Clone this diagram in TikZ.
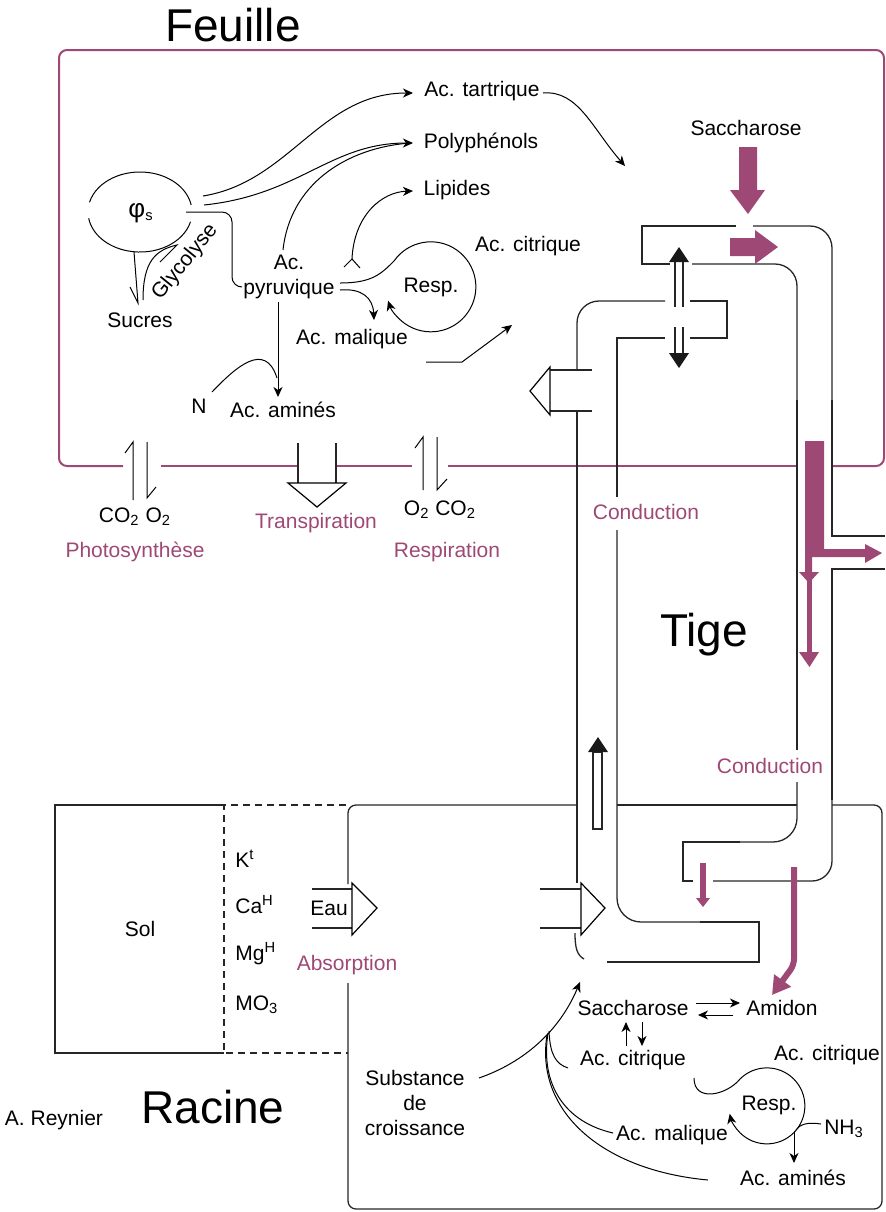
\documentclass[tikz,border=0pt]{standalone}
\usepackage{fontspec}
\setmainfont{Liberation Sans}
\usetikzlibrary{arrows.meta}
\definecolor{plum}{RGB}{158,72,117}
\tikzset{
  txt/.style     ={font=\fontsize{10.5}{12.6}\selectfont, inner sep=1pt},
  ptxt/.style    ={txt, text=plum},
  big/.style     ={font=\fontsize{23}{27}\selectfont, inner sep=0pt},
  flow/.style    ={-{Stealth[length=5pt,width=4.5pt,inset=1.5pt]}, line width=0.5pt},
  fine/.style    ={line width=0.5pt},
  wall/.style    ={line width=0.65pt, black!85},
  leafwall/.style={line width=1pt, plum},
  soilwall/.style={line width=0.6pt, black!85, dash pattern=on 3.5pt off 2.5pt},
  openarr/.style ={draw, line width=0.6pt, fill=white},
  sap/.style     ={fill=plum, draw=none},
  blk/.style     ={fill=black!90, draw=none},
}

\begin{document}
\begin{tikzpicture}[x=0.5pt, y=-0.5pt]
  \useasboundingbox (0,0) rectangle (885,1212);

  % feuille
  \draw[leafwall, rounded corners=4pt] (123,466) -- (59,466) -- (59,50) -- (884,50) -- (884,466) -- (832,466);
  \draw[leafwall] (161,466) -- (298,466) (337,466) -- (412,466) (448,466) -- (797,466);
  \node[big] (feuille) at (233,25) {Feuille};
  \node[big] (tige) at (704,635) {Tige};
  \node[big] (racine) at (213,1107) {Racine};
  \node[txt] (auteur) at (54,1120) {A. Reynier};

  \node[txt] (phis)   at (141,213) {{\fontsize{13}{14}\selectfont φ}\textsubscript{s}};
  \node[txt] (sucres) at (140,320) {Sucres};
  \node[txt, rotate=51] (glyco) at (185,262) {Glycolyse};
  \node[txt, align=center] (pyruv) at (289,277) {Ac.\\pyruvique};
  \node[txt] (tart)   at (482,91)  {Ac. tartrique};
  \node[txt] (poly)   at (481,143) {Polyphénols};
  \node[txt] (lipid)  at (457,190) {Lipides};
  \node[txt] (citrA)  at (528,246) {Ac. citrique};
  \node[txt] (respA)  at (431,287) {Resp.};
  \node[txt] (malA)   at (352,339) {Ac. malique};
  \node[txt] (azote)  at (199,406) {N};
  \node[txt] (aminA)  at (283,410) {Ac. aminés};
  \node[txt] (sacchA) at (746,128) {Saccharose};

  \draw[fine] (190.5,221.7) arc[start angle=14, end angle=171, x radius=52, y radius=40];
  \draw[fine] (89.5,202.3) arc[start angle=194, end angle=350, x radius=52, y radius=40];
  \draw[fine] (134,252) -- (138,303) -- (130,287);
  \draw[fine] (143,300) .. controls (143,262) and (155,250) .. (177,245) -- (160,262);
  \draw[fine, rounded corners=5pt] (186,212) -- (232,212) -- (232,287) -- (242,287);
  \draw[flow] (203,196) .. controls (290,182) and (320,93) .. (413,93);
  \draw[flow] (204,205) .. controls (300,195) and (330,143) .. (413,143);
  \draw[fine] (283,250) .. controls (290,185) and (345,148) .. (410,143);
  \draw[flow] (543,93) .. controls (578,90) and (592,128) .. (625,166);
  \draw[fine] (344,267) -- (352,259) -- (360,268);
  \draw[flow] (352,259) .. controls (354,215) and (382,192) .. (413,191);
  \draw[flow] (340,283) .. controls (372,283) and (381,274) .. (394,261)
    arc[start angle=-145, end angle=162, radius=45];
  \draw[flow] (340,290) .. controls (362,288) and (373,298) .. (374,320);
  \draw[flow] (426,362) -- (462,362) -- (512,325);
  \draw[flow] (278,302) -- (278,397);
  \draw[fine] (212,392) .. controls (235,368) and (265,340) .. (277,378);

  % echanges gazeux
  \draw[fine] (133,500) -- (133,442) -- (125,453);
  \draw[fine] (147,442) -- (147,498) -- (156,487);
  \draw[fine] (423,490) -- (423,437) -- (415,448);
  \draw[fine] (437,437) -- (437,490) -- (447,479);
  \draw[wall] (298,443) -- (298,483) (336,443) -- (336,483);
  \draw[openarr] (288,483) -- (346,483) -- (317,507) -- cycle;
  \node[txt] (gasA) at (135,517) {CO\textsubscript{2} O\textsubscript{2}};
  \node[ptxt] (photo) at (135,552) {Photosynthèse};
  \node[ptxt] (transp) at (316,523) {Transpiration};
  \node[txt] (gasB) at (440,510) {O\textsubscript{2} CO\textsubscript{2}};
  \node[ptxt] (respi) at (447,552) {Respiration};

  % conduits
  \draw[wall, rounded corners=11pt] (577,370) -- (577,301) -- (665,301);
  \draw[wall] (690,301) -- (727,301) -- (727,338) -- (690,338);
  \draw[wall] (665,338) -- (617,338) -- (617,497);
  \draw[wall, rounded corners=12pt] (617,530) -- (617,922) -- (700,922);
  \draw[wall] (700,922) -- (759,922) -- (759,962) -- (607,962);
  \draw[wall] (577,411) -- (577,883);
  \draw[wall] (575,933) .. controls (575,948) and (577,955) .. (584,959);
  \draw[wall] (550,370) -- (592,370) (550,411) -- (592,411);
  \draw[openarr] (550,367) -- (530,391) -- (550,415) -- cycle;

  \draw[wall] (736,226) -- (642,226) -- (642,264) -- (670,264);
  \draw[wall, rounded corners=11pt] (753,226) -- (832,226) -- (832,400);
  \draw[wall] (832,400) -- (832,536) -- (885,536);
  \draw[wall, rounded corners=11pt] (692,264) -- (797,264) -- (797,400);
  \draw[wall] (797,400) -- (797,750);
  \draw[wall, rounded corners=12pt] (797,782) -- (797,842) -- (740,842);
  \draw[wall] (740,842) -- (683,842) -- (683,881) -- (693,881);
  \draw[wall, rounded corners=10pt] (713,881) -- (832,881) -- (832,800);
  \draw[wall] (832,800) -- (832,569) -- (885,569);

  \draw[wall] (675,262) -- (675,307) (683,262) -- (683,307) (675,327) -- (675,353) (683,327) -- (683,353);
  \fill[blk] (669,262) -- (679,247) -- (689,262) -- cycle;
  \fill[blk] (669,353) -- (679,368) -- (689,353) -- cycle;
  \draw[wall] (593,752) rectangle (602,829);
  \fill[blk] (588,752) -- (598,737) -- (608,752) -- cycle;

  \fill[sap] (739,147) -- (757,147) -- (757,190) -- (765,190) -- (748,214) -- (730,190) -- (739,190) -- cycle;
  \fill[sap] (730,238) -- (755,238) -- (755,230) -- (778,247) -- (755,264) -- (755,256) -- (730,256) -- cycle;
  \fill[sap] (805,441) -- (824,441) -- (824,549) -- (865,549) -- (865,544) -- (882,553) -- (865,563)
    -- (865,557) -- (812,557) -- (812,572) -- (819,572) -- (809,583) -- (799,572) -- (805,572) -- cycle;
  \fill[sap] (807,578) rectangle (812,652);
  \fill[sap] (799,652) -- (819,652) -- (809.5,667) -- cycle;
  \fill[sap] (700,863) rectangle (706,898);
  \fill[sap] (696,898) -- (710,898) -- (703,907) -- cycle;
  \draw[plum, line width=3pt, rounded corners=3pt, -{Triangle[length=9pt,width=10pt]}] (794,867) -- (794,965) -- (772,995);
  \node[ptxt] (condA) at (646,512) {Conduction};
  \node[ptxt] (condB) at (770,766) {Conduction};

  % racine
  \draw[wall, rounded corners=4pt] (348,884) -- (348,805) -- (577,805);
  \draw[wall] (617,805) -- (797,805);
  \draw[wall, rounded corners=4pt] (832,805) -- (882,805) -- (882,1209) -- (348,1209) -- (348,983);
  \draw[wall] (224,805) -- (55,805) -- (55,1053) -- (224,1053);
  \draw[soilwall] (346,805) -- (224,805) -- (224,1053) -- (348,1053);
  \draw[wall] (312,889) -- (352,889) (312,928) -- (352,928);
  \draw[openarr] (352,883) -- (377,908) -- (352,935) -- cycle;
  \draw[wall] (540,889) -- (581,889) (540,928) -- (581,928);
  \draw[openarr] (581,883) -- (605,908) -- (581,935) -- cycle;

  \node[txt] (sol) at (140,929) {Sol};
  \node[txt, anchor=base west] (kion)  at (233,867)  {K\textsuperscript{t}};
  \node[txt, anchor=base west] (caion) at (233,913)  {Ca\textsuperscript{H}};
  \node[txt, anchor=base west] (mgion) at (233,960)  {Mg\textsuperscript{H}};
  \node[txt, anchor=base west] (moion) at (233,1010) {MO\textsubscript{3}};
  \node[txt] (eau) at (329,908) {Eau};
  \node[ptxt] (absorp) at (347,965) {Absorption};
  \node[txt, align=center] (subst) at (415,1103) {Substance\\de\\croissance};
  \node[txt] (sacchB) at (633,1008) {Saccharose};
  \node[txt] (amidon) at (782,1008) {Amidon};
  \node[txt] (citrB)  at (633,1060) {Ac. citrique};
  \node[txt] (citrC)  at (827,1055) {Ac. citrique};
  \node[txt] (respB)  at (769,1105) {Resp.};
  \node[txt] (ammon)  at (844,1129) {NH\textsubscript{3}};
  \node[txt] (malB)   at (672,1135) {Ac. malique};
  \node[txt] (aminB)  at (793,1178) {Ac. aminés};

  \draw[flow] (696,1003) -- (740,1003);
  \draw[flow] (733,1015) -- (698,1015);
  \draw[flow] (626,1046) -- (626,1022);
  \draw[flow] (642,1022) -- (642,1046);
  \draw[flow] (479,1078) .. controls (525,1062) and (560,1030) .. (580,982);
  \draw[fine] (549,1031) .. controls (550,1055) and (556,1064) .. (568,1068);
  \draw[fine] (548,1033) .. controls (540,1085) and (565,1122) .. (613,1133);
  \draw[fine] (547,1035) .. controls (535,1110) and (600,1170) .. (708,1180);
  \draw[flow] (694,1078) .. controls (694,1103) and (727,1095) .. (740,1079)
    arc[start angle=-135, end angle=168, radius=38];
  \draw[fine] (821,1124) .. controls (808,1122) and (800,1124) .. (796,1130);
  \draw[flow] (794,1131) -- (794,1163);
\end{tikzpicture}
\end{document}
